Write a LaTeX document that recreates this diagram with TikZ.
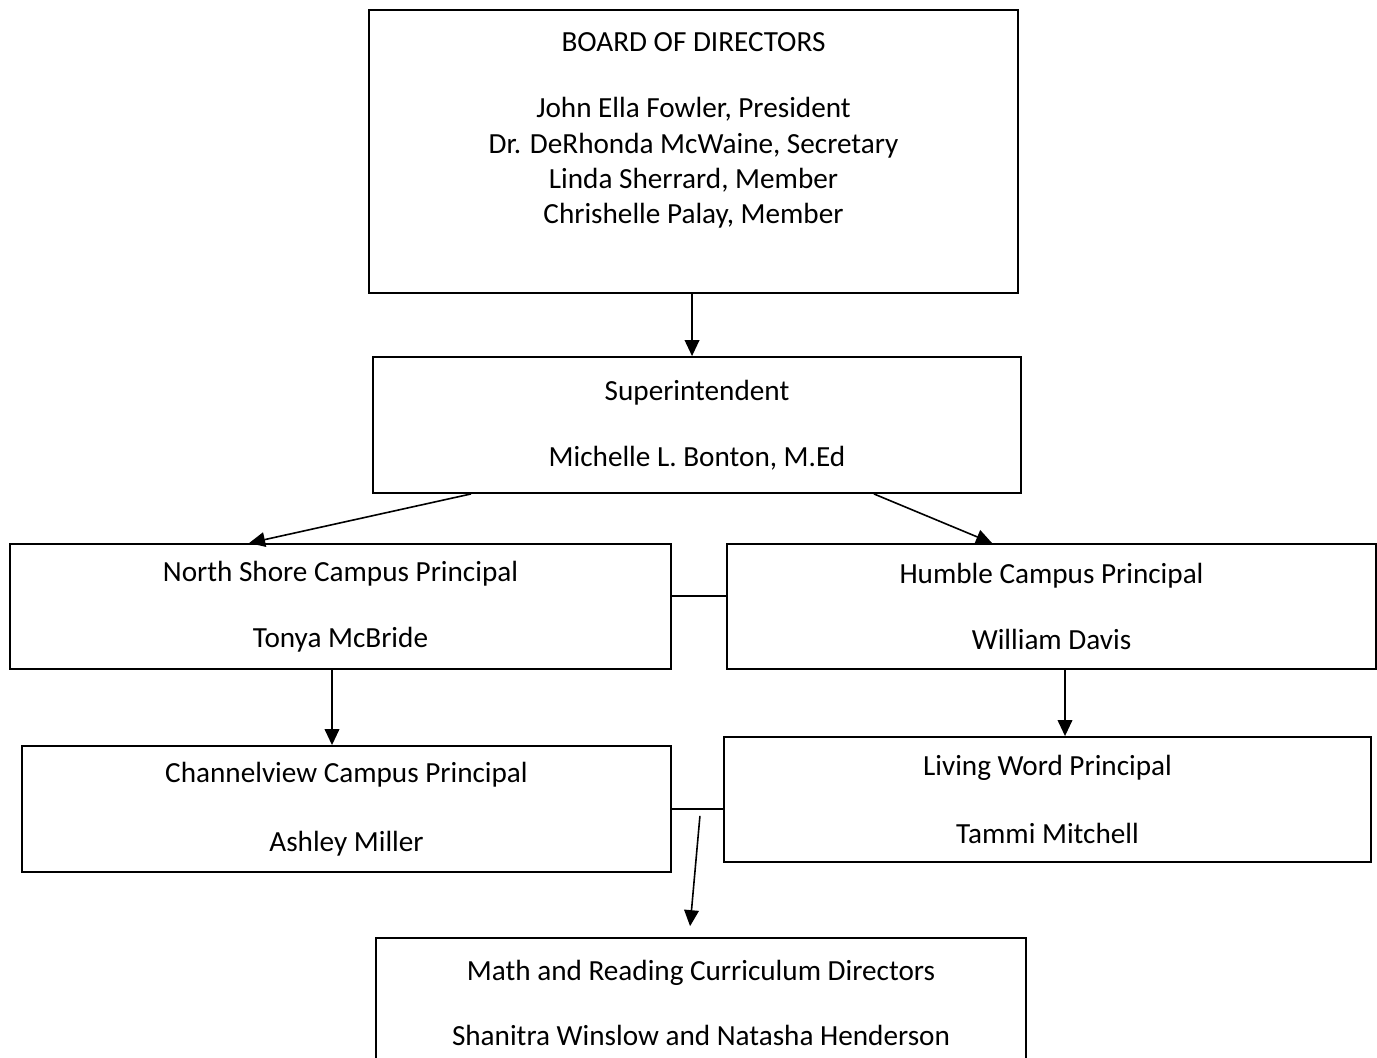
\documentclass[tikz,border=0pt]{standalone}
\usepackage{fontspec}
\setmainfont{Carlito}
\usetikzlibrary{arrows.meta,positioning,calc}
\def\gap{\\[22.6pt]}

\begin{document}
\begin{tikzpicture}[x=0.75pt,y=-0.75pt,
	font=\fontsize{21.9}{26.6}\selectfont,
	box/.style 2 args={draw,line width=1.4pt,minimum width=#1*0.75pt,minimum height=#2*0.75pt,align=center,inner sep=0pt},
	arr/.style={-{Triangle[length=12pt,width=11pt]},line width=1.2pt},
	link/.style={line width=1.2pt}]
\clip (0,0) rectangle (1377,1057);

\node[box={649}{283}]	(board)			at (693.5,151.5)	{BOARD OF DIRECTORS\gap John Ella Fowler, President\\Dr. DeRhonda McWaine, Secretary\\Linda Sherrard, Member\\Chrishelle Palay, Member\\[7.9pt]\mbox{}};
\node[box={648}{136}]	(supt)			at (697,425)		{Superintendent\gap Michelle L. Bonton, M.Ed};
\node[box={661}{125}]	(north_shore)	at (340.5,606.5)	{North Shore Campus Principal\gap Tonya McBride};
\node[box={649}{125}]	(humble)		at (1051.5,606.5)	{Humble Campus Principal\gap William Davis};
\node[box={649}{126}]	(channelview)	at (346.5,809)		{Channelview Campus Principal\\[25pt]Ashley Miller};
\node[box={647}{125}]	(living_word)	at (1047.5,799.5)	{Living Word Principal\\[25pt]Tammi Mitchell};
\node[box={650}{130}]	(curriculum)	at (701,1003)		{Math and Reading Curriculum Directors\gap Shanitra Winslow and Natasha Henderson};

\coordinate (split) at ([xshift=21pt,yshift=-5.2pt]channelview.east);

\draw[arr]	([xshift=-1.1pt]board.south)			-- ([xshift=-1.1pt]board.south |- supt.north);
\draw[arr]	([xshift=74.2pt]supt.south west)		-- ([xshift=180pt]north_shore.north west);
\draw[arr]	([xshift=-111pt]supt.south east)		-- ([xshift=199.5pt]humble.north west);
\draw[link]	([yshift=7.9pt]north_shore.east)		-- ([yshift=7.9pt]north_shore.east -| humble.west);
\draw[arr]	([xshift=242.2pt]north_shore.south west) -- ([xshift=242.2pt]north_shore.south west |- channelview.north);
\draw[arr]	([xshift=254.2pt]humble.south west)		-- ([xshift=254.2pt]humble.south west |- living_word.north);
\draw[link]	(channelview.east)						-- (channelview.east -| living_word.west);
\draw[arr]	(split)									-- ([xshift=-8.2pt,yshift=8.2pt]curriculum.north);
\end{tikzpicture}
\end{document}
